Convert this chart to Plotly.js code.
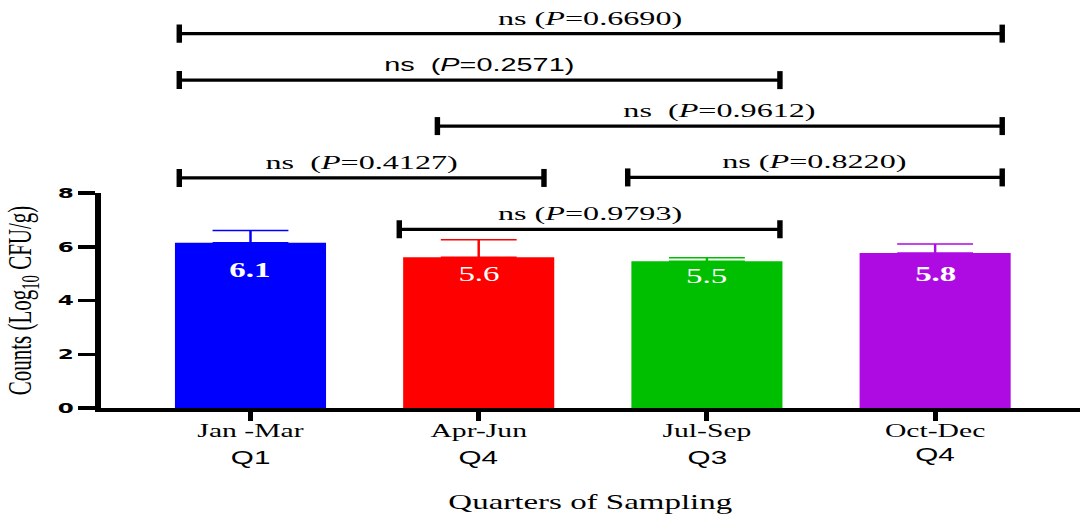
<!DOCTYPE html>
<html>
<head>
<meta charset="utf-8">
<script src="https://cdn.plot.ly/plotly-3.0.1.min.js"></script>
<style>
  html, body { margin: 0; padding: 0; background: #fff; overflow: hidden; }
  #wrap { width: 1080px; height: 514px; overflow: hidden; }
  #plot { width: 655px; height: 514px; transform: scaleX(1.6489); transform-origin: 0 0; }
</style>
</head>
<body>
<div id="wrap"><div id="plot"></div></div>
<script>
// ---------------- data ----------------
const PERIODS   = ['Jan -Mar', 'Apr-Jun', 'Jul-Sep', 'Oct-Dec'];
const QUARTERS  = ['Q1', 'Q4', 'Q3', 'Q4'];
const MEANS     = [6.15, 5.61, 5.46, 5.77];
const SD        = [0.45, 0.65, 0.13, 0.33];
const LABELS    = ['6.1', '5.6', '5.5', '5.8'];
const LABEL_BOLD = [true, false, false, true];

// significance brackets (x in category-index units, y in Log10 CFU/g)
const BR_X1   = [-0.312, -0.312, 0.819, -0.312, 1.653, 0.652];
const BR_X2   = [ 3.294,  2.320, 3.294,  1.286, 3.294, 2.320];
const BR_Y    = [13.93,  12.20, 10.49,   8.56,  8.58,  6.65];
const BR_TEXT = ['ns (<i>P</i>=0.6690)', 'ns\u00a0\u00a0(<i>P</i>=0.2571)', 'ns\u00a0\u00a0(<i>P</i>=0.9612)',
                 'ns\u00a0\u00a0(<i>P</i>=0.4127)', 'ns (<i>P</i>=0.8220)', 'ns (<i>P</i>=0.9793)'];
const BR_SANS = [false, true, false, false, false, false];

// ---------------- styles ----------------
const COLORS = ['#0000FF', '#FF0000', '#00BF00', '#AE0BE3'];
const LABEL_SHIFT = [-27, -17, -15, -21];
const QUARTER_Y = [-0.122, -0.122, -0.122, -0.115];
const SERIF = 'Liberation Serif, Times New Roman, Times, serif';
const SANS = 'Liberation Sans, Arial, Helvetica, sans-serif';
const CAP = 0.335;     // half-height of bracket end caps (axis units)
const IDX = PERIODS.map((_, i) => i);

const traces = [];
traces.push({
  type: 'bar', x: IDX, y: MEANS, width: 0.662,
  marker: { color: COLORS, line: { width: 0 } },
  xaxis: 'x', yaxis: 'y', showlegend: false, hoverinfo: 'skip'
});
// coloured error bars (one per bar so colour matches the bar)
IDX.forEach(i => {
  traces.push({
    type: 'scatter', mode: 'markers', x: [IDX[i]], y: [MEANS[i]],
    marker: { size: 0.1, color: COLORS[i], opacity: 0 },
    error_y: { type: 'data', array: [SD[i]], arrayminus: [0], symmetric: false,
               color: COLORS[i], thickness: 1.5, width: 23 },
    xaxis: 'x', yaxis: 'y', showlegend: false, hoverinfo: 'skip', cliponaxis: false
  });
});

const annotations = [];
BR_Y.forEach((yv, i) => {
  const x1 = BR_X1[i], x2 = BR_X2[i];
  const yax = yv > 8 ? 'y2' : 'y';
  traces.push({
    type: 'scatter', mode: 'lines',
    x: [x1, x1, null, x1, x2, null, x2, x2],
    y: [yv - CAP, yv + CAP, null, yv, yv, null, yv - CAP, yv + CAP],
    line: { color: '#000', width: 3.3 },
    xaxis: 'x', yaxis: yax, showlegend: false, hoverinfo: 'skip', cliponaxis: false
  });
  annotations.push({
    xref: 'x', yref: yax, x: (x1 + x2) / 2, y: yv, text: BR_TEXT[i],
    showarrow: false, xanchor: 'center', yanchor: 'middle', yshift: 15,
    font: BR_SANS[i] ? { family: SANS, size: 17.5, color: '#000' }
                     : { family: SERIF, size: 19.5, color: '#000' }
  });
});

IDX.forEach(i => {
  annotations.push({
    xref: 'x', yref: 'y', x: IDX[i], y: MEANS[i], text: LABELS[i],
    showarrow: false, xanchor: 'center', yanchor: 'middle', yshift: LABEL_SHIFT[i],
    font: { family: SERIF, size: 20, color: '#fff', weight: LABEL_BOLD[i] ? 'bold' : 'normal' }
  });
  annotations.push({
    xref: 'x', yref: 'paper', x: IDX[i], y: QUARTER_Y[i], text: QUARTERS[i],
    showarrow: false, xanchor: 'center', yanchor: 'middle',
    font: { family: SANS, size: 18, color: '#000' }
  });
});

const layout = {
  width: 655, height: 514,
  margin: { l: 61, r: 0, t: 0, b: 106 },
  paper_bgcolor: '#fff', plot_bgcolor: '#fff',
  showlegend: false, hovermode: false,
  xaxis: {
    type: 'linear', range: [-0.6569, 3.635], anchor: 'y',
    tickvals: IDX, ticktext: PERIODS,
    tickfont: { family: SERIF, size: 18, color: '#000' },
    ticks: 'outside', ticklen: 9, tickwidth: 3, tickcolor: '#000', ticklabelstandoff: -6,
    showline: true, linewidth: 4, linecolor: '#000',
    showgrid: false, zeroline: false, fixedrange: true,
    title: { text: 'Quarters of Sampling', font: { family: SERIF, size: 20, color: '#000' }, standoff: 56 }
  },
  yaxis: {
    domain: [0, 0.52696], range: [0, 8], anchor: 'x',
    tickvals: [0, 2, 4, 6, 8],
    tickfont: { family: 'DejaVu Sans, sans-serif', size: 14, color: '#000', weight: 'bold' },
    ticks: 'outside', ticklen: 10, tickwidth: 3.5, tickcolor: '#000',
    showline: true, linewidth: 3.5, linecolor: '#000',
    showgrid: false, zeroline: false, fixedrange: true,
    title: { text: 'Counts (Log<sub>10</sub> CFU/g)', font: { family: SERIF, size: 21, color: '#000' } }
  },
  yaxis2: {
    domain: [0.52696, 1], range: [8, 15.181], anchor: 'x', visible: false,
    showgrid: false, zeroline: false, fixedrange: true
  },
  annotations: annotations
};

Plotly.newPlot('plot', traces, layout, { staticPlot: true, displayModeBar: false });
</script>
</body>
</html>
